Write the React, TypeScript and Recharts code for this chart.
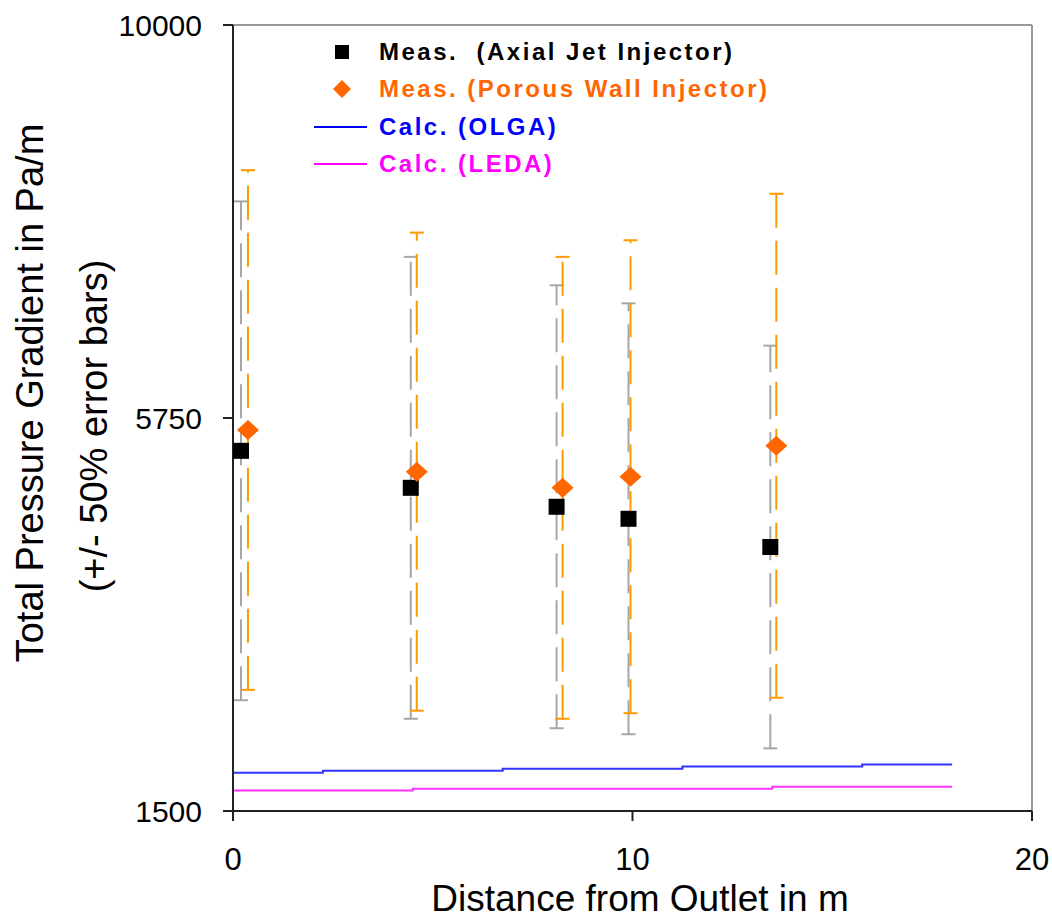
import React from 'react';
import {
  ComposedChart,
  Scatter,
  Line,
  XAxis,
  YAxis,
  ErrorBar,
  ReferenceLine,
  Label,
} from 'recharts';

// Measured pressure gradients (Pa/m) vs distance from outlet (m)
const axialX = [0.2, 4.45, 8.1, 9.9, 13.45];
const axialY = [5395, 4995, 4790, 4660, 4355];
const porousX = [0.375, 4.6, 8.25, 9.95, 13.6];
const porousY = [5620, 5170, 4995, 5115, 5450];

// Calculated profiles (piecewise constant)
const olgaX = [0, 4.5, 9, 13.5, 18];
const olgaY = [1915, 1935, 1957, 1982, 2003];
const ledaX = [0, 9, 18];
const ledaY = [1722, 1741, 1762];

const xTicks = [0, 10, 20];
const yTicks = [1500, 5750, 10000];
const errorFraction = 0.5;

const FONT = '"Liberation Sans", Arial, sans-serif';

const axialData = axialX.map((x, i) => ({ x, y: axialY[i], err: axialY[i] * errorFraction }));
const porousData = porousX.map((x, i) => ({ x, y: porousY[i], err: porousY[i] * errorFraction }));
const olgaData = olgaX.map((x, i) => ({ x, y: olgaY[i] }));
const ledaData = ledaX.map((x, i) => ({ x, y: ledaY[i] }));

const SquareDot = (props: any) => {
  const { cx, cy } = props;
  return <rect x={cx - 8} y={cy - 8} width={16} height={16} fill="#000000" />;
};

const DiamondDot = (props: any) => {
  const { cx, cy } = props;
  return (
    <polygon
      points={`${cx},${cy - 10} ${cx + 11},${cy} ${cx},${cy + 10} ${cx - 11},${cy}`}
      fill="#FF6600"
    />
  );
};

const legendItems = [
  { label: 'Meas.  (Axial Jet Injector)', color: '#000000', kind: 'square' },
  { label: 'Meas. (Porous Wall Injector)', color: '#FF6600', kind: 'diamond' },
  { label: 'Calc. (OLGA)', color: '#0000FF', kind: 'line' },
  { label: 'Calc. (LEDA)', color: '#FF00FF', kind: 'line' },
];

function LegendMarker({ kind, color }: { kind: string; color: string }) {
  return (
    <svg width={60} height={20} style={{ display: 'block' }}>
      {kind === 'square' && <rect x={25} y={3} width={14} height={14} fill={color} />}
      {kind === 'diamond' && <polygon points="32,1 41,10 32,19 23,10" fill={color} />}
      {kind === 'line' && <line x1={4} y1={10} x2={57} y2={10} stroke={color} strokeWidth={2} />}
    </svg>
  );
}

const App: React.FC = () => {
  return (
    <div style={{ position: 'relative', width: 1052, height: 920, fontFamily: FONT, background: '#fff' }}>
      <style>{'body { margin: 0; }'}</style>
      <ComposedChart
        width={1052}
        height={920}
        margin={{ top: 25, right: 20, left: 113, bottom: 49 }}
      >
        <XAxis
          dataKey="x"
          type="number"
          domain={[0, 20]}
          ticks={xTicks}
          allowDataOverflow
          height={60}
          stroke="#222"
          strokeWidth={2}
          tickSize={10}
          tickMargin={27}
          tick={{ fontSize: 31, fill: '#000', fontFamily: FONT }}
        >
          <Label
            content={() => (
              <text x={640} y={911} textAnchor="middle" fontSize={37} fontFamily={FONT} fill="#000">
                Distance from Outlet in m
              </text>
            )}
          />
        </XAxis>
        <YAxis
          dataKey="y"
          type="number"
          domain={[1500, 10000]}
          ticks={yTicks}
          allowDataOverflow
          width={120}
          stroke="#222"
          strokeWidth={2}
          tickSize={10}
          tickMargin={21}
          tick={{ fontSize: 30, fill: '#000', fontFamily: FONT }}
        >
          <Label
            content={() => (
              <g fontFamily={FONT} fontSize={38} fill="#000">
                <text x={43} y={393} textAnchor="middle" transform="rotate(-90 43 393)">
                  Total Pressure Gradient in Pa/m
                </text>
                <text x={107} y={426} textAnchor="middle" transform="rotate(-90 107 426)">
                  (+/- 50% error bars)
                </text>
              </g>
            )}
          />
        </YAxis>
        <ReferenceLine y={10000} stroke="#999" strokeWidth={2} />
        <ReferenceLine x={20} stroke="#999" strokeWidth={2} />

        <Line
          data={olgaData}
          dataKey="y"
          type="step"
          stroke="#3333FF"
          strokeWidth={2}
          dot={false}
          activeDot={false}
          isAnimationActive={false}
        />
        <Line
          data={ledaData}
          dataKey="y"
          type="step"
          stroke="#FF33FF"
          strokeWidth={2}
          dot={false}
          activeDot={false}
          isAnimationActive={false}
        />
        <Scatter data={axialData} dataKey="y" shape={SquareDot} isAnimationActive={false}>
          <ErrorBar
            dataKey="err"
            direction="y"
            width={7}
            stroke="#A6A6A6"
            strokeWidth={2}
            strokeDasharray="34 13"
            isAnimationActive={false}
          />
        </Scatter>
        <Scatter data={porousData} dataKey="y" shape={DiamondDot} isAnimationActive={false}>
          <ErrorBar
            dataKey="err"
            direction="y"
            width={7}
            stroke="#FF9900"
            strokeWidth={2}
            strokeDasharray="34 13"
            isAnimationActive={false}
          />
        </Scatter>
      </ComposedChart>

      <div style={{ position: 'absolute', left: 310, top: 33 }}>
        {legendItems.map((item) => (
          <div key={item.label} style={{ display: 'flex', alignItems: 'center', height: 37.5 }}>
            <LegendMarker kind={item.kind} color={item.color} />
            <span
              style={{
                marginLeft: 9,
                color: item.color,
                fontWeight: 'bold',
                fontSize: 24,
                letterSpacing: 2.5,
                whiteSpace: 'pre',
              }}
            >
              {item.label}
            </span>
          </div>
        ))}
      </div>
    </div>
  );
};

export default App;
